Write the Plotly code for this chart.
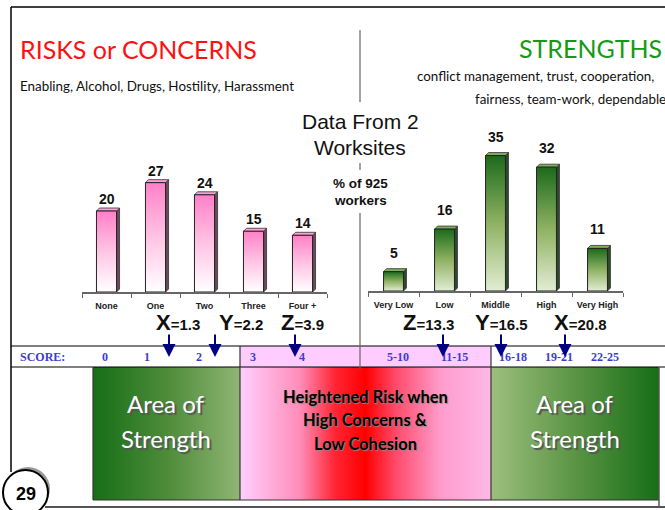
import plotly.graph_objects as go

# ---------------- data ----------------
risk_categories = ['None', 'One', 'Two', 'Three', 'Four +']
risk_values = [20, 27, 24, 15, 14]
strength_categories = ['Very Low', 'Low', 'Middle', 'High', 'Very High']
strength_values = [5, 16, 35, 32, 11]
risk_stats_letters = ['X', 'Y', 'Z']
risk_stats_values = ['1.3', '2.2', '3.9']
strength_stats_letters = ['Z', 'Y', 'X']
strength_stats_values = ['13.3', '16.5', '20.8']
score_labels = ['0', '1', '2', '3', '4', '5-10', '11-15', '16-18', '19-21', '22-25']

# ---------------- layout (pixel positions) ----------------
W, H = 665, 510
score_label_px = [105, 147, 199, 253, 302, 398, 454, 513, 559, 605]
arrow_px = [169, 215, 295, 443, 501, 565]
risk_stats_px = [178, 241, 302]
strength_stats_px = [428, 501, 580]

fig = go.Figure()

def bg_poly(xs, ys, **kw):
    fig.add_trace(go.Scatter(x=xs, y=ys, mode='lines', fill='toself', hoverinfo='skip',
                             showlegend=False, xaxis='x', yaxis='y', **kw))

# ----- bottom band gradient boxes -----
bg_poly([93, 240, 240, 93, 93], [367, 367, 500, 500, 367], line=dict(width=0),
        fillgradient=dict(type='horizontal',
                          colorscale=[[0, '#176e17'], [0.5, '#4d8b39'], [1, '#8fb574']]))
bg_poly([240, 491, 491, 240, 240], [367, 367, 500, 500, 367], line=dict(width=0),
        fillgradient=dict(type='horizontal',
                          colorscale=[[0, '#ffd0ff'], [0.24, '#ff8cb8'], [0.38, '#ff2434'],
                                      [0.5, '#ff0000'], [0.62, '#ff4a6a'], [0.8, '#ff9ccc'],
                                      [1, '#ffb8e6']]))
bg_poly([491, 659, 659, 491, 491], [367, 367, 500, 500, 367], line=dict(width=0),
        fillgradient=dict(type='horizontal',
                          colorscale=[[0, '#9dbf7e'], [0.5, '#5a9444'], [1, '#176e17']]))

# ----- bars -----
def draw_bars(cats, vals, xa, ya, colorscale, side_color, top_color, bw, dx, dy):
    for i, v in enumerate(vals):
        x0, x1 = i - bw / 2, i + bw / 2
        common = dict(mode='lines', fill='toself', hoverinfo='skip', showlegend=False,
                      xaxis=xa, yaxis=ya)
        fig.add_trace(go.Scatter(x=[x1, x1 + dx, x1 + dx, x1, x1], y=[0, dy, v + dy, v, 0],
                                 fillcolor=side_color, line=dict(color='#333', width=0.8), **common))
        fig.add_trace(go.Scatter(x=[x0, x0 + dx, x1 + dx, x1, x0], y=[v, v + dy, v + dy, v, v],
                                 fillcolor=top_color, line=dict(color='#333', width=0.8), **common))
        fig.add_trace(go.Scatter(x=[x0, x1, x1, x0, x0], y=[0, 0, v, v, 0],
                                 fillgradient=dict(type='vertical', colorscale=colorscale),
                                 line=dict(color='#222', width=1), **common))

draw_bars(risk_categories, risk_values, 'x2', 'y2',
          [[0, '#ffffff'], [0.5, '#ffc4e4'], [1, '#ff80c8']], '#6b4a5c', '#ff9fd6',
          0.41, 3 / 49, 3 / 4.05)
draw_bars(strength_categories, strength_values, 'x3', 'y3',
          [[0, '#e2edd4'], [0.5, '#8fb262'], [1, '#1c6a1c']], '#2e4a2a', '#7fae5a',
          0.39, 3 / 51, 3 / 3.87)

annotations = []

def pxa(x, y, text, size=12, color='#000', family='Arial', xanchor='center', yanchor='middle',
        shadow=None, **kw):
    font = dict(size=size, color=color, family=family)
    if shadow:
        font['shadow'] = shadow
    annotations.append(dict(x=x, y=y, xref='x', yref='y', text=text, showarrow=False,
                            xanchor=xanchor, yanchor=yanchor, font=font, **kw))

# value labels
for i, v in enumerate(risk_values):
    annotations.append(dict(x=i, y=v, xref='x2', yref='y2', text='<b>%d</b>' % v, showarrow=False,
                            yshift=12, yanchor='middle', font=dict(size=14, family='Arial', color='#111')))
for i, v in enumerate(strength_values):
    annotations.append(dict(x=i, y=v, xref='x3', yref='y3', text='<b>%d</b>' % v, showarrow=False,
                            yshift=19, yanchor='middle', font=dict(size=14, family='Arial', color='#111')))

# stats
for L, V, xp in zip(risk_stats_letters, risk_stats_values, risk_stats_px):
    pxa(xp, 322, "<b><span style='font-size:22px'>%s</span>=%s</b>" % (L, V), size=15, color='#111')
for L, V, xp in zip(strength_stats_letters, strength_stats_values, strength_stats_px):
    pxa(xp, 322, "<b><span style='font-size:22px'>%s</span>=%s</b>" % (L, V), size=15, color='#111')

# headers
pxa(18, 49, 'RISKS or CONCERNS', size=25, color='#ff1010', family='Lato', xanchor='left')
pxa(18, 86, 'Enabling, Alcohol, Drugs, Hostility, Harassment', size=13.4, color='#111',
    family='Lato', xanchor='left')
pxa(664, 48, 'STRENGTHS', size=25, color='#169a16', family='Lato', xanchor='right')
pxa(415, 76, 'conflict management, trust, cooperation,', size=13.4, color='#111',
    family='Lato', xanchor='left')
pxa(473, 99, 'fairness, team-work, dependable', size=13.4, color='#111',
    family='Lato', xanchor='left')
pxa(360, 121, 'Data From 2', size=21, color='#111')
pxa(360, 147, 'Worksites', size=21, color='#111')
pxa(360, 183, '<b>% of 925</b>', size=13.5, color='#111')
pxa(360, 200, '<b>workers</b>', size=13.5, color='#111')

# score row
pxa(18, 357, '<b>SCORE:</b>', size=12, color='#3c3cd0', family='Liberation Serif', xanchor='left')
for lab, xp in zip(score_labels, score_label_px):
    pxa(xp, 357, '<b>%s</b>' % lab, size=12, color='#3c3cd0', family='Liberation Serif')

# arrows
for xp in arrow_px:
    annotations.append(dict(x=xp, y=357, xref='x', yref='y', text='', showarrow=True,
                            ax=0, ay=-24, arrowhead=2, arrowsize=1.3, arrowwidth=2,
                            arrowcolor='#000080'))

# band texts
for cx in (166, 575):
    pxa(cx, 403, 'Area of', size=24, color='#ffffff', family='Lato', shadow='2px 2px 1px #555')
    pxa(cx, 438, 'Strength', size=24, color='#ffffff', family='Lato', shadow='2px 2px 1px #555')
for txt, yy in (('Heightened Risk when', 397), ('High Concerns &', 420), ('Low Cohesion', 444)):
    pxa(365, yy, '<b>%s</b>' % txt, size=16.5, color='#000000', family='Lato',
        shadow='1px 1px 1px #888')

# page number
pxa(26, 494, '<b>29</b>', size=18, color='#000')

shapes = []
def line(x0, y0, x1, y1, color='#000', width=1.5, layer='above'):
    shapes.append(dict(type='line', xref='x', yref='y', x0=x0, y0=y0, x1=x1, y1=y1,
                       line=dict(color=color, width=width), layer=layer))

# score row pink
shapes.append(dict(type='rect', xref='x', yref='y', x0=240, x1=491, y0=346, y1=367,
                   fillcolor='#ffccff', line=dict(width=0), layer='below'))
# frame
line(11, 7, 665, 7, width=1.5)
line(11, 7, 11, 472, width=1.5)
line(11, 346, 665, 346, width=1.2)
line(11, 367, 665, 367, width=1.2)
line(45, 507, 665, 507, color='#555', width=2)
line(93, 367, 93, 500, color='#333', width=1.2)
line(93, 500, 659, 500, color='#333', width=1.2)
line(240, 346, 240, 500, color='#333', width=1.2)
line(491, 346, 491, 500, color='#333', width=1.2)
line(659, 367, 659, 507, color='#555', width=1.5)
# center divider
line(360, 30, 360, 102, color='#666', width=1.2)
line(360, 163, 360, 170, color='#666', width=1.2)
line(360, 213, 360, 369, color='#666', width=1.2)
# page circle
shapes.append(dict(type='circle', xref='x', yref='y', x0=6, x1=50, y0=467, y1=511,
                   fillcolor='#9a9a9a', line=dict(width=0), layer='above'))
shapes.append(dict(type='circle', xref='x', yref='y', x0=3, x1=48, y0=470, y1=515,
                   fillcolor='#ffffff', line=dict(color='#000', width=2), layer='above'))

fig.update_layout(
    width=W, height=H, margin=dict(l=0, r=0, t=0, b=0),
    paper_bgcolor='white', plot_bgcolor='rgba(0,0,0,0)', showlegend=False,
    font=dict(family='Arial'),
    xaxis=dict(domain=[0, 1], range=[0, W], visible=False, fixedrange=True),
    yaxis=dict(domain=[0, 1], range=[H, 0], visible=False, fixedrange=True),
    xaxis2=dict(domain=[82 / W, 327 / W], range=[-0.5, 4.5], anchor='y2',
                tickmode='array', tickvals=list(range(5)),
                ticktext=['<b>%s</b>' % c for c in risk_categories],
                tickfont=dict(size=9, family='Arial', color='#222'), ticks='',
                showline=True, linecolor='#666', linewidth=2, showgrid=False, zeroline=False,
                ticklabelstandoff=4,
                minor=dict(tickmode='array', tickvals=[k - 0.5 for k in range(6)],
                           ticks='outside', ticklen=4, tickcolor='#666', showgrid=False)),
    yaxis2=dict(domain=[(H - 292) / H, (H - 170.5) / H], range=[0, 30], anchor='x2',
                visible=False),
    xaxis3=dict(domain=[368 / W, 623 / W], range=[-0.5, 4.5], anchor='y3',
                tickmode='array', tickvals=list(range(5)),
                ticktext=['<b>%s</b>' % c for c in strength_categories],
                tickfont=dict(size=9, family='Arial', color='#222'), ticks='',
                showline=True, linecolor='#666', linewidth=2, showgrid=False, zeroline=False,
                ticklabelstandoff=4,
                minor=dict(tickmode='array', tickvals=[k - 0.5 for k in range(6)],
                           ticks='outside', ticklen=4, tickcolor='#666', showgrid=False)),
    yaxis3=dict(domain=[(H - 291) / H, (H - 136.2) / H], range=[0, 40], anchor='x3',
                visible=False),
    annotations=annotations, shapes=shapes,
)

fig.write_html('out.html')
